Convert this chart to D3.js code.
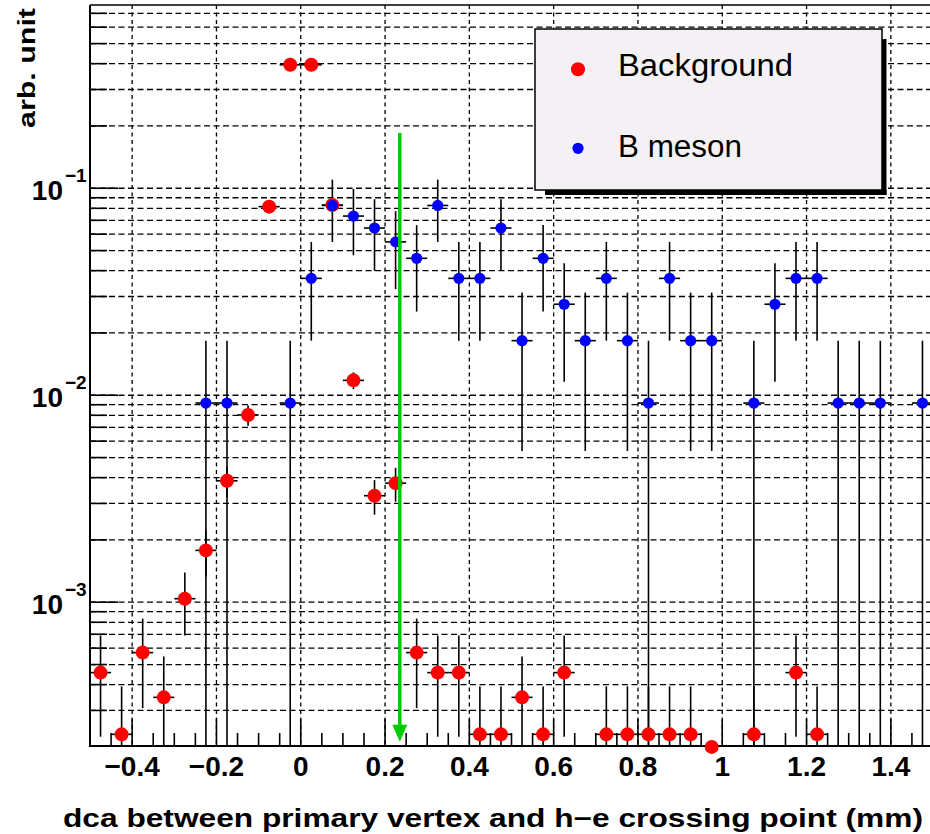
<!DOCTYPE html>
<html>
<head>
<meta charset="utf-8">
<script src="https://cdn.jsdelivr.net/npm/d3@7"></script>
<style>
  html, body { margin: 0; padding: 0; background: #ffffff; }
  svg { display: block; }
  text { font-family: "Liberation Sans", Arial, Helvetica, sans-serif; }
</style>
</head>
<body>
<svg id="chart" width="930" height="834"></svg>
<script>
// ---------------- data ----------------
const binCenters = [-0.475, -0.425, -0.375, -0.325, -0.275, -0.225, -0.175, -0.125, -0.075, -0.025,
                     0.025,  0.075,  0.125,  0.175,  0.225,  0.275,  0.325,  0.375,  0.425,  0.475,
                     0.525,  0.575,  0.625,  0.675,  0.725,  0.775,  0.825,  0.875,  0.925,  0.975,
                     1.025,  1.075,  1.125,  1.175,  1.225,  1.275,  1.325,  1.375,  1.425,  1.475];

const backgroundValues = [4.57e-4, 2.3e-4, 5.71e-4, 3.47e-4, 1.04e-3, 1.78e-3, 3.86e-3, 8.03e-3, 0.0815, 0.395,
                          0.395, 0.083, 0.0118, 3.27e-3, 3.76e-3, 5.71e-4, 4.57e-4, 4.57e-4, 2.3e-4, 2.3e-4,
                          3.47e-4, 2.3e-4, 4.57e-4, null, 2.3e-4, 2.3e-4, 2.3e-4, 2.3e-4, 2.3e-4, 2.0e-4,
                          null, 2.3e-4, null, 4.57e-4, 2.3e-4, null, null, null, null, null];
const backgroundErrors = [2.33e-4, 1.62e-4, 2.63e-4, 2.0e-4, 3.5e-4, 4.5e-4, 6.5e-4, 9.0e-4, 2.9e-3, 6.5e-3,
                          6.5e-3, 2.9e-3, 1.1e-3, 6.2e-4, 7.0e-4, 2.63e-4, 2.33e-4, 2.33e-4, 1.62e-4, 1.62e-4,
                          2.0e-4, 1.62e-4, 2.33e-4, null, 1.62e-4, 1.62e-4, 1.62e-4, 1.62e-4, 1.62e-4, 0,
                          null, 1.62e-4, null, 2.33e-4, 1.62e-4, null, null, null, null, null];

const bMesonValues = [null, null, null, null, null, 0.00917, 0.00917, null, null, 0.00917,
                      0.0367, 0.08257, 0.0734, 0.06422, 0.05505, 0.04587, 0.08257, 0.0367, 0.0367, 0.06422,
                      0.01835, 0.04587, 0.02752, 0.01835, 0.0367, 0.01835, 0.00917, 0.0367, 0.01835, 0.01835,
                      null, 0.00917, 0.02752, 0.0367, 0.0367, 0.00917, 0.00917, 0.00917, null, 0.00917];
const bMesonErrors = [null, null, null, null, null, 0.00917, 0.00917, null, null, 0.00917,
                      0.01835, 0.02752, 0.02595, 0.02427, 0.02247, 0.02051, 0.02752, 0.01835, 0.01835, 0.02427,
                      0.01297, 0.02051, 0.01589, 0.01297, 0.01835, 0.01297, 0.00917, 0.01835, 0.01297, 0.01297,
                      null, 0.00917, 0.01589, 0.01835, 0.01835, 0.00917, 0.00917, 0.00917, null, 0.00917];

const xTickValues = [-0.4, -0.2, 0, 0.2, 0.4, 0.6, 0.8, 1, 1.2, 1.4];
const xTickLabels = ["\u22120.4", "\u22120.2", "0", "0.2", "0.4", "0.6", "0.8", "1", "1.2", "1.4"];
const yDecadeValues = [1e-3, 1e-2, 1e-1];
const yDecadeExponents = ["\u22123", "\u22122", "\u22121"];

const legendLabels = ["Background", "B meson"];
const seriesColors = ["#ff0000", "#0000ff"];

const cutPosition = 0.235;
const cutArrowTop = 0.185;
const cutArrowBottom = 2.12e-4;

const xTitle = "dca between primary vertex and h\u2212e crossing point (mm)";
const yTitle = "arb. unit";

// ---------------- layout ----------------
const L = 90, R = 933, T = 5, B = 746;
const svg = d3.select("#chart");

const x = d3.scaleLinear().domain([-0.5, 1.5]).range([L, R]);
const y = d3.scaleLog().domain([2.02e-4, 0.768]).range([B, T]);

svg.append("defs").append("clipPath").attr("id", "plotclip")
  .append("rect").attr("x", L).attr("y", T).attr("width", R - L).attr("height", B - T);

const plot = svg.append("g").attr("clip-path", "url(#plotclip)");

// grid
const yTicksAll = y.ticks();
plot.append("g").selectAll("line").data(yTicksAll).join("line")
  .attr("x1", L).attr("x2", R)
  .attr("y1", d => y(d)).attr("y2", d => y(d))
  .attr("stroke", "#000").attr("stroke-width", 1.3)
  .attr("stroke-dasharray", "6,3.5");
plot.append("g").selectAll("line").data(xTickValues).join("line")
  .attr("x1", d => x(d)).attr("x2", d => x(d))
  .attr("y1", T).attr("y2", B)
  .attr("stroke", "#000").attr("stroke-width", 1.3)
  .attr("stroke-dasharray", "4,3.5");

// ticks
const isDecade = d => Math.abs(Math.log10(d) - Math.round(Math.log10(d))) < 1e-6;
plot.append("g").selectAll("line").data(yTicksAll).join("line")
  .attr("x1", L).attr("x2", d => L + (isDecade(d) ? 28 : 17))
  .attr("y1", d => y(d)).attr("y2", d => y(d))
  .attr("stroke", "#000").attr("stroke-width", 1.6);
const xMinor = x.ticks(40);
plot.append("g").selectAll("line").data(xMinor).join("line")
  .attr("x1", d => x(d)).attr("x2", d => x(d))
  .attr("y1", B).attr("y2", d => B - (xTickValues.some(v => Math.abs(v - d) < 1e-6) ? 27 : 13))
  .attr("stroke", "#000").attr("stroke-width", 1.6);

// frame
svg.append("line").attr("x1", L).attr("x2", R).attr("y1", T).attr("y2", T)
  .attr("stroke", "#000").attr("stroke-width", 1.3);
svg.append("line").attr("x1", L).attr("x2", L).attr("y1", T).attr("y2", B + 1)
  .attr("stroke", "#000").attr("stroke-width", 2);
svg.append("line").attr("x1", L - 1).attr("x2", R).attr("y1", B).attr("y2", B)
  .attr("stroke", "#000").attr("stroke-width", 2);

// tick labels
svg.append("g").selectAll("text").data(xTickValues).join("text")
  .attr("x", d => x(d)).attr("y", 776)
  .attr("text-anchor", "middle")
  .attr("font-size", 28).attr("font-weight", "bold")
  .text((d, i) => xTickLabels[i]);

const yl = svg.append("g");
yDecadeValues.forEach((d, i) => {
  yl.append("text").attr("x", 63).attr("y", y(d) + 12)
    .attr("text-anchor", "end").attr("font-size", 28).attr("font-weight", "bold").text("10");
  yl.append("text").attr("x", 65).attr("y", y(d) - 6)
    .attr("text-anchor", "start").attr("font-size", 19).attr("font-weight", "bold").text(yDecadeExponents[i]);
});

// titles
svg.append("text").attr("x", 63).attr("y", 827)
  .attr("font-size", 25).attr("font-weight", "bold")
  .attr("textLength", 860).attr("lengthAdjust", "spacingAndGlyphs")
  .text(xTitle);
svg.append("text").attr("transform", "translate(35,128) rotate(-90)")
  .attr("font-size", 23).attr("font-weight", "bold")
  .attr("textLength", 120).attr("lengthAdjust", "spacingAndGlyphs")
  .text(yTitle);

// data
const halfBin = (binCenters[1] - binCenters[0]) / 2;
function drawSeries(values, errors, color, r) {
  const pts = binCenters.map((c, i) => ({c, v: values[i], e: errors[i]})).filter(p => p.v !== null);
  const g = plot.append("g");
  pts.forEach(p => {
    if (p.e > 0) {
      const lo = p.v - p.e;
      g.append("line").attr("x1", x(p.c)).attr("x2", x(p.c))
        .attr("y1", y(p.v + p.e)).attr("y2", lo > 0 ? y(lo) : B + 2)
        .attr("stroke", "#000").attr("stroke-width", 1.6);
    }
    g.append("line").attr("x1", x(p.c - halfBin)).attr("x2", x(p.c + halfBin))
      .attr("y1", y(p.v)).attr("y2", y(p.v))
      .attr("stroke", "#000").attr("stroke-width", 1.6);
  });
  svg.append("g").selectAll("circle").data(pts).join("circle")
    .attr("cx", p => x(p.c)).attr("cy", p => y(p.v)).attr("r", r)
    .attr("fill", color);
}
drawSeries(backgroundValues, backgroundErrors, seriesColors[0], 7);
drawSeries(bMesonValues, bMesonErrors, seriesColors[1], 5.6);

// cut arrow
const ax = x(cutPosition);
svg.append("line").attr("x1", ax).attr("x2", ax)
  .attr("y1", y(cutArrowTop)).attr("y2", y(cutArrowBottom) - 14)
  .attr("stroke", "#00cc00").attr("stroke-width", 3.5);
svg.append("path")
  .attr("d", `M${ax - 7.5},${y(cutArrowBottom) - 17} L${ax + 7.5},${y(cutArrowBottom) - 17} L${ax},${y(cutArrowBottom)} Z`)
  .attr("fill", "#00cc00");

// legend
const lg = svg.append("g");
lg.append("rect").attr("x", 882).attr("y", 39).attr("width", 4.5).attr("height", 156).attr("fill", "#000");
lg.append("rect").attr("x", 545).attr("y", 190).attr("width", 341.5).attr("height", 5).attr("fill", "#000");
lg.append("rect").attr("x", 535).attr("y", 29).attr("width", 347).attr("height", 161)
  .attr("fill", "#f4f1f4").attr("stroke", "#000").attr("stroke-width", 1.5);
const legendRows = [{my: 69.3, ty: 76, r: 7, len: 175}, {my: 148.3, ty: 157, r: 5.6, len: 124}];
legendLabels.forEach((lab, i) => {
  lg.append("circle").attr("cx", 578).attr("cy", legendRows[i].my).attr("r", legendRows[i].r)
    .attr("fill", seriesColors[i]);
  lg.append("text").attr("x", 618).attr("y", legendRows[i].ty)
    .attr("font-size", 31)
    .attr("textLength", legendRows[i].len).attr("lengthAdjust", "spacingAndGlyphs")
    .text(lab);
});
</script>
</body>
</html>
